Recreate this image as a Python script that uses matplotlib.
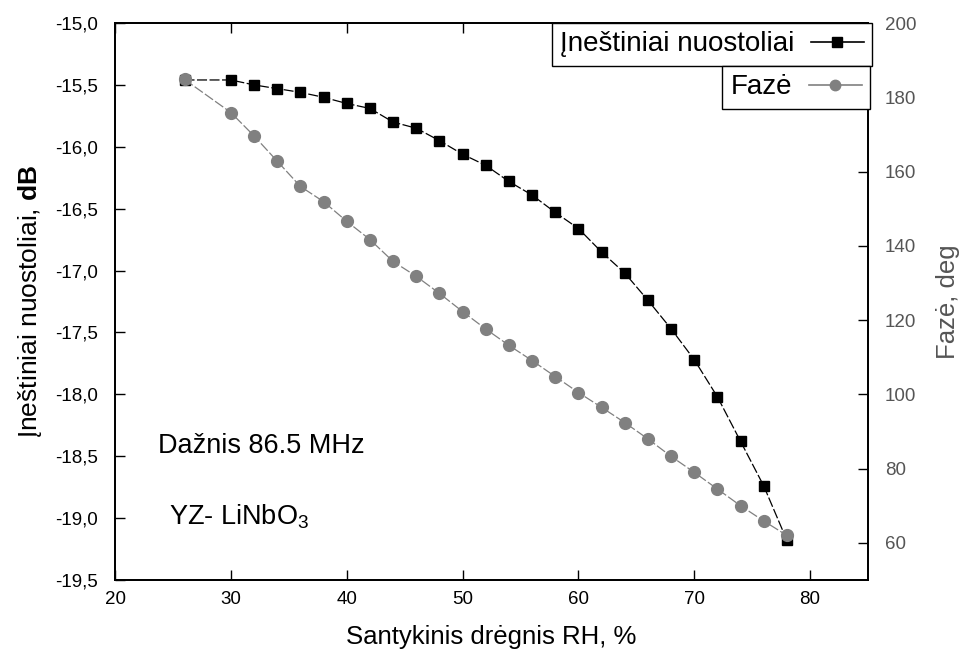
import matplotlib
matplotlib.use("Agg")
import matplotlib.pyplot as plt
from matplotlib.lines import Line2D
from matplotlib.ticker import FuncFormatter

plt.rcParams['font.family'] = ['Liberation Sans', 'DejaVu Sans']
plt.rcParams['mathtext.fontset'] = 'custom'
plt.rcParams['mathtext.rm'] = 'Liberation Sans'
plt.rcParams['mathtext.bf'] = 'Liberation Sans:bold'

# relative humidity, %
rh = [26, 30, 32, 34, 36, 38, 40, 42, 44, 46, 48, 50, 52, 54,
      56, 58, 60, 62, 64, 66, 68, 70, 72, 74, 76, 78]
# insertion loss, dB
loss = [-15.46, -15.46, -15.50, -15.53, -15.56, -15.60, -15.65, -15.69, -15.80,
        -15.85, -15.95, -16.06, -16.15, -16.28, -16.39, -16.53, -16.66, -16.85,
        -17.02, -17.24, -17.47, -17.72, -18.02, -18.38, -18.74, -19.18]
# phase, deg
phase = [184.8, 175.9, 169.6, 162.8, 156.0, 151.9, 146.6, 141.7, 135.8, 131.8,
         127.2, 122.3, 117.6, 113.2, 109.1, 104.8, 100.5, 96.5, 92.4, 88.0,
         83.3, 79.0, 74.5, 70.0, 65.9, 62.0]

loss_ticks = [-19.5, -19.0, -18.5, -18.0, -17.5, -17.0, -16.5, -16.0, -15.5, -15.0]
phase_ticks = [60, 80, 100, 120, 140, 160, 180, 200]
rh_ticks = [20, 30, 40, 50, 60, 70, 80]

grey = '#808080'
side = '#555555'

fig = plt.figure(figsize=(9.65, 6.58), dpi=100)
ax = fig.add_axes([0.1192, 0.1185, 0.7803, 0.8465])
ax2 = ax.twinx()

ax.plot(rh, loss, color='black', lw=0.9, ls=(0, (8, 2)),
        marker='s', ms=7.5, mec='black', mfc='black')
ax2.plot(rh, phase, color=grey, lw=0.9, ls=(0, (8, 2)),
         marker='o', ms=8.5, mec=grey, mfc=grey)

ax.set_xlim(20, 85)
ax.set_ylim(-19.5, -15.0)
ax2.set_ylim(50, 200)
ax.set_xticks(rh_ticks)
ax.set_yticks(loss_ticks)
ax2.set_yticks(phase_ticks)
ax.yaxis.set_major_formatter(FuncFormatter(lambda v, p: ('%.1f' % v).replace('.', ',')))

ax.tick_params(axis='x', direction='in', top=True, length=7, width=1, labelsize=13.5, pad=8)
ax.tick_params(axis='y', direction='in', right=False, length=7, width=1, labelsize=13.5, pad=12)
ax2.tick_params(axis='y', direction='in', length=7, width=1, labelsize=13.5, pad=12,
                labelcolor=side)
for a in (ax, ax2):
    for s in a.spines.values():
        s.set_linewidth(1.3)

ax.set_xlabel('Santykinis drėgnis RH, %', fontsize=18.5, labelpad=12)
ax.set_ylabel('Įneštiniai nuostoliai, $\\mathbf{dB}$', fontsize=19, labelpad=8)
ax2.set_ylabel('Fazė, deg', fontsize=18.5, color=side, labelpad=14)

ax.text(32.6, -18.42, 'Dažnis 86.5 MHz', fontsize=19.5, ha='center', va='center')
ax.text(24.7, -18.99, 'YZ- LiNbO$_3$', fontsize=19.5, ha='left', va='center')

h1 = Line2D([], [], color='black', lw=1.2, marker='s', ms=7, mfc='black', mec='black')
h2 = Line2D([], [], color=grey, lw=1.2, marker='o', ms=7.5, mfc=grey, mec=grey)

leg_kw = dict(loc='upper right', markerfirst=False, fontsize=20, fancybox=False,
              framealpha=1, edgecolor='black', borderaxespad=0, handlelength=1.9,
              handletextpad=0.6, borderpad=0.3)
leg1 = ax2.legend([h1], ['Įneštiniai nuostoliai'], bbox_to_anchor=(1.0053, 1.0), **leg_kw)
leg1.get_frame().set_linewidth(1.0)
ax2.add_artist(leg1)
leg2 = ax2.legend([h2], ['Fazė'], bbox_to_anchor=(1.0027, 0.9228), **leg_kw)
leg2.get_frame().set_linewidth(1.0)

fig.savefig('out.png', dpi=100)
